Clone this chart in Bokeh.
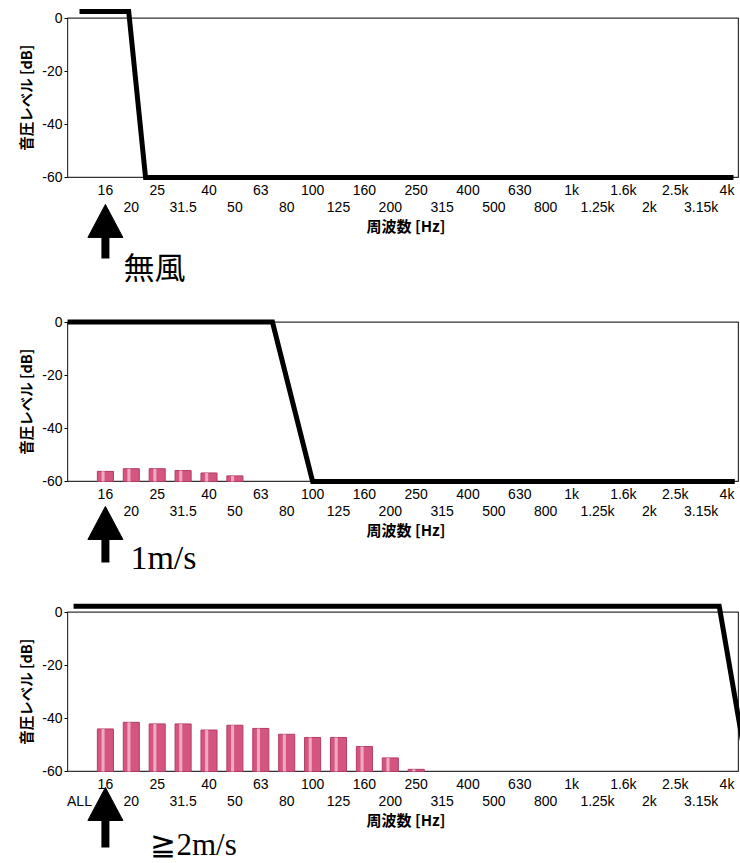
import math
from bokeh.plotting import figure
from bokeh.models import Range1d, FixedTicker, LinearAxis
from bokeh.layouts import column
from bokeh.embed import file_html
from bokeh.resources import INLINE
from bokeh.core.properties import value

# ---- data ----
bands = ["ALL", "16", "20", "25", "31.5", "40", "50", "63", "80", "100", "125",
         "160", "200", "250", "315", "400", "500", "630", "800", "1k", "1.25k",
         "1.6k", "2k", "2.5k", "3.15k", "4k"]

y_ticks = [-60, -40, -20, 0]

# measured band levels (dB)
bars_1ms_bands = ["16", "20", "25", "31.5", "40", "50"]
bars_1ms_db = [-56.2, -55.2, -55.2, -55.9, -56.8, -57.9]
bars_2ms_bands = ["16", "20", "25", "31.5", "40", "50", "63", "80", "100",
                  "125", "160", "200", "250"]
bars_2ms_db = [-44.0, -41.5, -42.1, -42.1, -44.4, -42.6, -43.8, -46.0, -47.2,
               -47.2, -50.6, -54.9, -59.2]

# filter curves: position on the band axis (band index units), level dB
curve_calm_pos = [0.0, 1.9, 2.55, 25.25]
curve_calm_db = [2.5, 2.5, -60, -60]
curve_1ms_pos = [-0.46, 7.45, 9.0, 25.3]
curve_1ms_db = [0, 0, -60, -60]
curve_2ms_pos = [-0.23, 24.7, 25.8]
curve_2ms_db = [2.2, 2.2, -60]

conditions = ["無風", "1m/s", "≧2m/s"]

# ---- layout / style ----
PX_PER_DB = 2.656
PX_PER_BAND = 25.9
BOX_LEFT, BOX_RIGHT = -0.46, 25.44      # plot box on the band axis
X_LO = -79 / PX_PER_BAND                # figure left edge (band units)
X_HI = X_LO + 740 / PX_PER_BAND
BAR_FILL = "#d4557f"
BAR_LINE = "#b23c66"
BAR_HI = "#f4b8cb"
TICK_FONT = "Liberation Sans"
CJK_FONT = "Noto Sans CJK JP"


def db_below(px):
    """dB coordinate that lies `px` pixels below the -60 dB line."""
    return y_ticks[0] - px / PX_PER_DB


def make_panel(height, zero_px, bar_bands, bar_db, cpos, cdb, show_all,
               label_text, label_font, label_size, label_x_px, label_y_px,
               arrow_tip_px, arrow_tail_px, rch=False):
    y_end = zero_px / PX_PER_DB
    y_start = y_end - height / PX_PER_DB
    p = figure(width=740, height=height,
               x_range=Range1d(X_LO, X_HI), y_range=Range1d(y_start, y_end),
               min_border=0, output_backend="svg", toolbar_location=None, tools="")
    p.grid.visible = False
    p.outline_line_color = None
    p.background_fill_color = "white"
    p.border_fill_color = "white"

    # plot box from -60 to 0 dB
    p.quad(left=[BOX_LEFT], right=[BOX_RIGHT], bottom=[y_ticks[0]], top=[y_ticks[-1]],
           fill_color=None, line_color="#333333", line_width=1.2)

    # bars
    if bar_bands:
        xs = [bands.index(b) for b in bar_bands]
        p.vbar(x=xs, bottom=y_ticks[0], top=bar_db, width=0.62,
               fill_color=BAR_FILL, line_color=BAR_LINE, line_width=1)
        p.vbar(x=[x - 0.09 for x in xs], bottom=y_ticks[0], top=bar_db,
               width=0.12, fill_color=BAR_HI, line_color=None, fill_alpha=0.85)

    # filter curve
    p.line(cpos, cdb, line_color="black", line_width=5, line_join="miter")

    # y axis pinned to the box's left edge
    ya = p.yaxis[0]
    ya.fixed_location = BOX_LEFT
    ya.ticker = FixedTicker(ticks=y_ticks)
    ya.major_label_overrides = {t: str(t) for t in y_ticks}
    ya.axis_line_color = None
    ya.major_tick_out = 3
    ya.major_tick_in = 0
    ya.minor_tick_line_color = None
    ya.major_label_standoff = 2
    ya.major_label_text_font = TICK_FONT
    ya.major_label_text_font_size = "14px"
    ya.major_label_text_color = "black"

    p.text(x=[X_LO + 25 / PX_PER_BAND], y=[(y_ticks[0] + y_ticks[-1]) / 2],
           text=["音圧レベル [dB]"], angle=math.pi / 2,
           text_font=value(CJK_FONT), text_font_size="14.5px", text_font_style="bold",
           text_align="center", text_baseline="middle", text_color="black")

    # x axes pinned to -60 dB: two staggered rows of band labels
    odd = [i for i in range(len(bands)) if i % 2 == 1]
    even = [i for i in range(len(bands)) if i % 2 == 0 and (show_all or i > 0)]
    xa1 = p.xaxis[0]
    xa2 = LinearAxis()
    p.add_layout(xa2, "below")
    for ax, ticks, standoff in ((xa1, odd, 5), (xa2, even, 22)):
        ax.fixed_location = y_ticks[0]
        ax.ticker = FixedTicker(ticks=ticks)
        ax.major_label_overrides = {i: bands[i] for i in ticks}
        ax.axis_line_color = None
        ax.major_tick_line_color = None
        ax.minor_tick_line_color = None
        ax.major_tick_out = 0
        ax.major_tick_in = 0
        ax.major_label_standoff = standoff
        ax.major_label_text_font = TICK_FONT
        ax.major_label_text_font_size = "14px"
        ax.major_label_text_color = "black"

    p.text(x=[(BOX_LEFT + BOX_RIGHT) / 2 + 3 / PX_PER_BAND], y=[db_below(48)],
           text=["周波数 [Hz]"], text_font=value(CJK_FONT), text_font_size="15px",
           text_font_style="bold", text_align="center", text_baseline="middle",
           text_color="black")

    # arrow pointing at the 16 Hz band
    ax16 = bands.index("16")
    head_half = 17.5 / PX_PER_BAND
    head_len_px = 33
    tip = db_below(arrow_tip_px)
    base = db_below(arrow_tip_px + head_len_px)
    tail = db_below(arrow_tail_px)
    p.vbar(x=[ax16], bottom=[tail], top=[base + 0.5], width=8 / PX_PER_BAND,
           fill_color="black", line_color=None)
    p.patch(x=[ax16 - head_half, ax16, ax16 + head_half], y=[base, tip, base],
            fill_color="black", line_color="black")

    # condition label
    p.text(x=[ax16 + label_x_px / PX_PER_BAND], y=[db_below(label_y_px)],
           text=[label_text], text_font=value(label_font), text_font_size=label_size,
           text_align="left", text_baseline="middle", text_color="black")
    if rch:
        p.text(x=[24.2], y=[-6.4], text=["Rch"], text_font=value(TICK_FONT),
               text_font_size="11px", text_align="center", text_baseline="middle",
               text_color="#c8708e")
    return p


# arrow/label offsets in pixels: label x from the 16 Hz band, y below -60 dB
p1 = make_panel(300, 17.6, [], [], curve_calm_pos, curve_calm_db, False,
                conditions[0], CJK_FONT, "31px", 18, 88, 27, 81)
p2 = make_panel(290, 21.6, bars_1ms_bands, bars_1ms_db, curve_1ms_pos, curve_1ms_db, False,
                conditions[1], "Liberation Serif", "34px", 25, 76, 25, 81)
p3 = make_panel(273, 21.6, bars_2ms_bands, bars_2ms_db, curve_2ms_pos, curve_2ms_db, True,
                conditions[2], "Liberation Serif", "31px", 45, 73, 16, 76)

layout = column(p1, p2, p3, spacing=0)
open("out.html", "w").write(file_html(layout, INLINE))
